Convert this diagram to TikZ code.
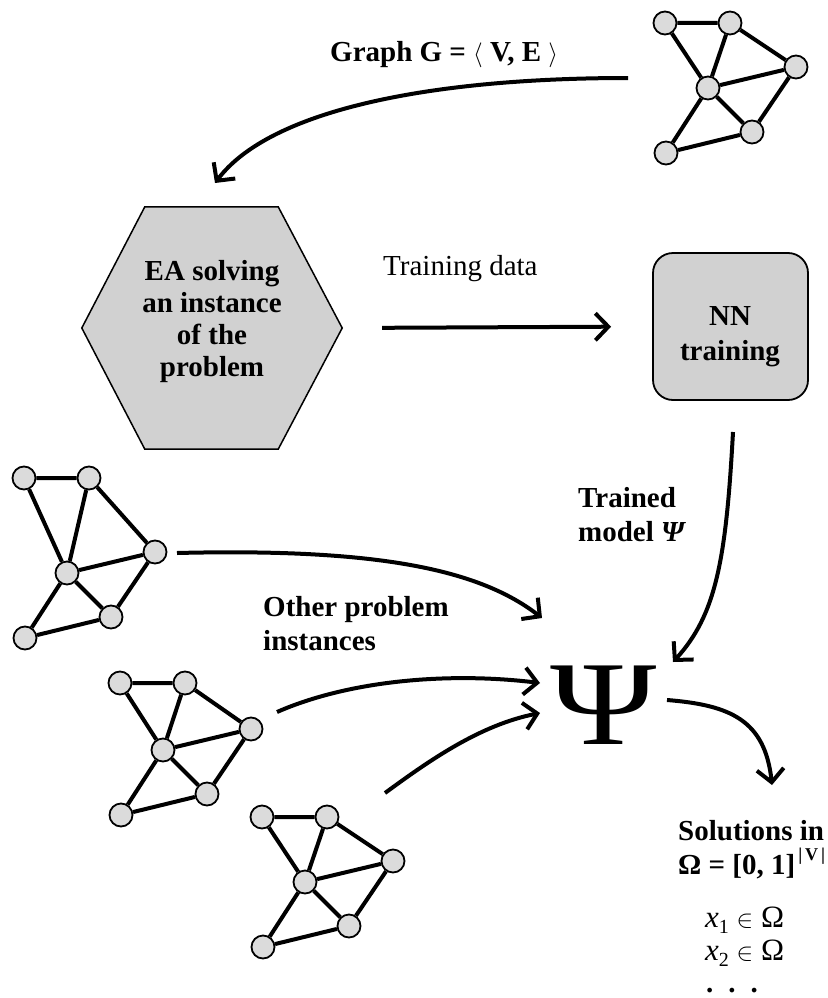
\documentclass[tikz,border=0pt]{standalone}
\usepackage{fontspec}
\setmainfont{Liberation Serif}
\usetikzlibrary{arrows.meta,calc}

\definecolor{boxgray}{gray}{0.82}
\definecolor{vtxgray}{gray}{0.86}

\tikzset{
  vtx/.style={circle, draw, line width=1.8pt, fill=vtxgray, minimum size=23pt, inner sep=0pt},
  gline/.style={line width=4pt},
  arr/.style={line width=4pt, -{Straight Barb[length=13pt, width=27pt, line width=4pt]}},
  lbl/.style={font=\fontsize{29}{34}\selectfont\bfseries, align=center, inner sep=0pt},
  % six-vertex instance graph; the argument is the height of the top pair above the hub
  netgraph/.pic={
    \node[vtx] (-d) at (0,0) {};
    \node[vtx] (-a) at (-43,-#1) {};
    \node[vtx] (-b) at (22,-#1) {};
    \node[vtx] (-c) at (88,-21) {};
    \node[vtx] (-e) at (44,44) {};
    \node[vtx] (-f) at (-42,65) {};
    \draw[gline] (-a) -- (-b) (-a) -- (-d) (-b) -- (-d) (-b) -- (-c)
                 (-c) -- (-d) (-c) -- (-e) (-d) -- (-e) (-d) -- (-f) (-f) -- (-e);
  }
}

\begin{document}
\begin{tikzpicture}[x=1pt, y=-1pt]
  \useasboundingbox (0,0) rectangle (827,998);

  % input graph and the other problem instances
  \pic (gt) at (708,88) {netgraph=65};
  \pic (g1) at (67,573) {netgraph=95};
  \pic (g2) at (163,750) {netgraph=67};
  \pic (g3) at (305,882) {netgraph=65};

  % evolutionary algorithm (hexagon)
  \node[minimum width=260pt, minimum height=242pt, inner sep=0pt] (ea) at (212,328) {};
  \path[draw, line width=1.5pt, fill=boxgray]
    ($(ea.north west)+(63,0)$) -- ($(ea.north east)+(-64,0)$) -- (ea.east)
    -- ($(ea.south east)+(-64,0)$) -- ($(ea.south west)+(63,0)$) -- (ea.west) -- cycle;
  \node[lbl, font=\fontsize{29}{32}\selectfont\bfseries] (eatext) at (212,322) {EA solving\\an instance\\of the\\problem};

  % network training box
  \node[draw, line width=1.8pt, fill=boxgray, rounded corners=20pt,
        minimum width=155pt, minimum height=147pt, inner sep=0pt] (nn) at (730.5,326.5) {};
  \node[lbl, font=\fontsize{29}{35}\selectfont\bfseries] (nntext) at (730,337) {NN\\training};

  % trained model
  \node[inner sep=0pt, font=\fontsize{120}{120}\selectfont] (psi) at (604,705) {\scalebox{1.2}[1]{Ψ}};

  % labels
  \node[lbl, anchor=base west] (glabel) at (330,62) {Graph G = $\langle$ V, E $\rangle$};
  \node[lbl, anchor=base west, font=\fontsize{29}{34}\selectfont] (tdlabel) at (383,275) {Training data};
  \node[lbl, anchor=base west, align=left] (tmlabel) at (578,541)
    {Trained\\model {\itshape Ψ}};
  \node[lbl, anchor=base west, align=left] (oplabel) at (263,650)
    {Other problem\\instances};

  % solutions
  \node[lbl, anchor=base west, align=left] (sol) at (678,874)
    {Solutions in\\Ω = [0, 1]\raisebox{0.45em}{\fontsize{18}{18}\selectfont\,|\,V\,|}};
  \node[inner sep=0pt, anchor=base west, font=\fontsize{31}{33}\selectfont] (x1) at (705,927)
    {\textit{x}\raisebox{-0.22em}{\fontsize{20}{20}\selectfont 1} $\in$ Ω};
  \node[inner sep=0pt, anchor=base west, font=\fontsize{31}{33}\selectfont] (x2) at (705,960)
    {\textit{x}\raisebox{-0.22em}{\fontsize{20}{20}\selectfont 2} $\in$ Ω};
  \node[inner sep=0pt, anchor=base west, font=\fontsize{29}{33}\selectfont\bfseries] (dots) at (706,992)
    {.\hspace{15pt}.\hspace{15pt}.};

  % connectors
  \coordinate (gin) at (628,78);
  \coordinate (eain) at (215,183);
  \draw[arr] (gin) .. controls (430,78) and (270,110) .. (eain);

  \draw[arr, shorten <=40pt, shorten >=41pt] (ea.east) -- (nn.west);

  \coordinate (nnout) at (733,432);
  \coordinate (psine) at (673,662);
  \draw[arr] (nnout) .. controls (726,560) and (716,615) .. (psine);

  \coordinate (in1s) at (177,553);
  \coordinate (in1e) at (542,618);
  \draw[arr] (in1s) .. controls (380,548) and (480,570) .. (in1e);

  \coordinate (in2s) at (277,712);
  \coordinate (in2e) at (540,683);
  \draw[arr] (in2s) .. controls (350,680) and (450,672) .. (in2e);

  \coordinate (in3s) at (385,793);
  \coordinate (in3e) at (540,713);
  \draw[arr] (in3s) .. controls (430,760) and (480,725) .. (in3e);

  \coordinate (psiout) at (667,700);
  \coordinate (solin) at (772,785);
  \draw[arr] (psiout) .. controls (730,705) and (765,720) .. (solin);
\end{tikzpicture}
\end{document}
